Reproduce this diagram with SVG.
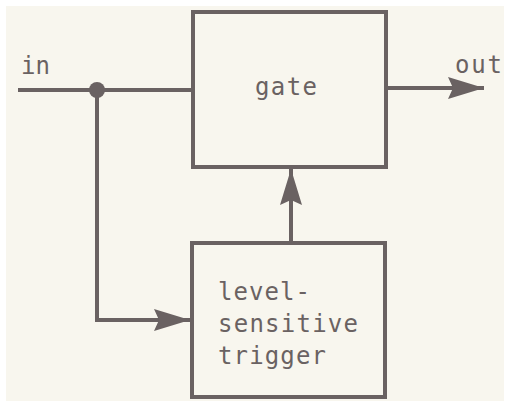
<svg xmlns="http://www.w3.org/2000/svg" width="507" height="401" viewBox="0 0 507 401">
<defs>
<style>
.box{fill:#f8f6ee;stroke:#6a6262;stroke-width:4}
.ln{fill:none;stroke:#6a6262;stroke-width:4}
.t{font-family:"DejaVu Sans Mono","Liberation Mono",monospace;font-size:24px;fill:#6a6262}
</style>
<marker id="ah" viewBox="0 0 36 22" refX="36" refY="11" markerWidth="36" markerHeight="22" markerUnits="userSpaceOnUse" orient="auto">
<path d="M0,0 L36,11 L0,22 L5,11 Z" fill="#6a6262"/>
</marker>
</defs>
<rect x="0" y="0" width="507" height="401" fill="#ffffff"/>
<rect x="6" y="6" width="498" height="395" fill="#f8f6ee"/>
<g id="connectors">
<path class="ln" d="M18,90 H193"/>
<circle cx="97" cy="90" r="8" fill="#6a6262"/>
<path class="ln" d="M97,90 V320 H190" marker-end="url(#ah)"/>
<path class="ln" d="M291,243 V169" marker-end="url(#ah)"/>
<path class="ln" d="M386,88 H484" marker-end="url(#ah)"/>
</g>
<g id="gate">
<rect class="box" x="193" y="12" width="193" height="155"/>
<text class="t" x="255" y="95" textLength="62">gate</text>
</g>
<g id="trigger">
<rect class="box" x="192" y="243" width="193" height="154"/>
<text class="t" x="218" y="300" textLength="92">level-</text>
<text class="t" x="218" y="332" textLength="140">sensitive</text>
<text class="t" x="218" y="364" textLength="108">trigger</text>
</g>
<g id="labels">
<text class="t" x="21" y="74" textLength="29">in</text>
<text class="t" x="455" y="73" textLength="47">out</text>
</g>
</svg>
